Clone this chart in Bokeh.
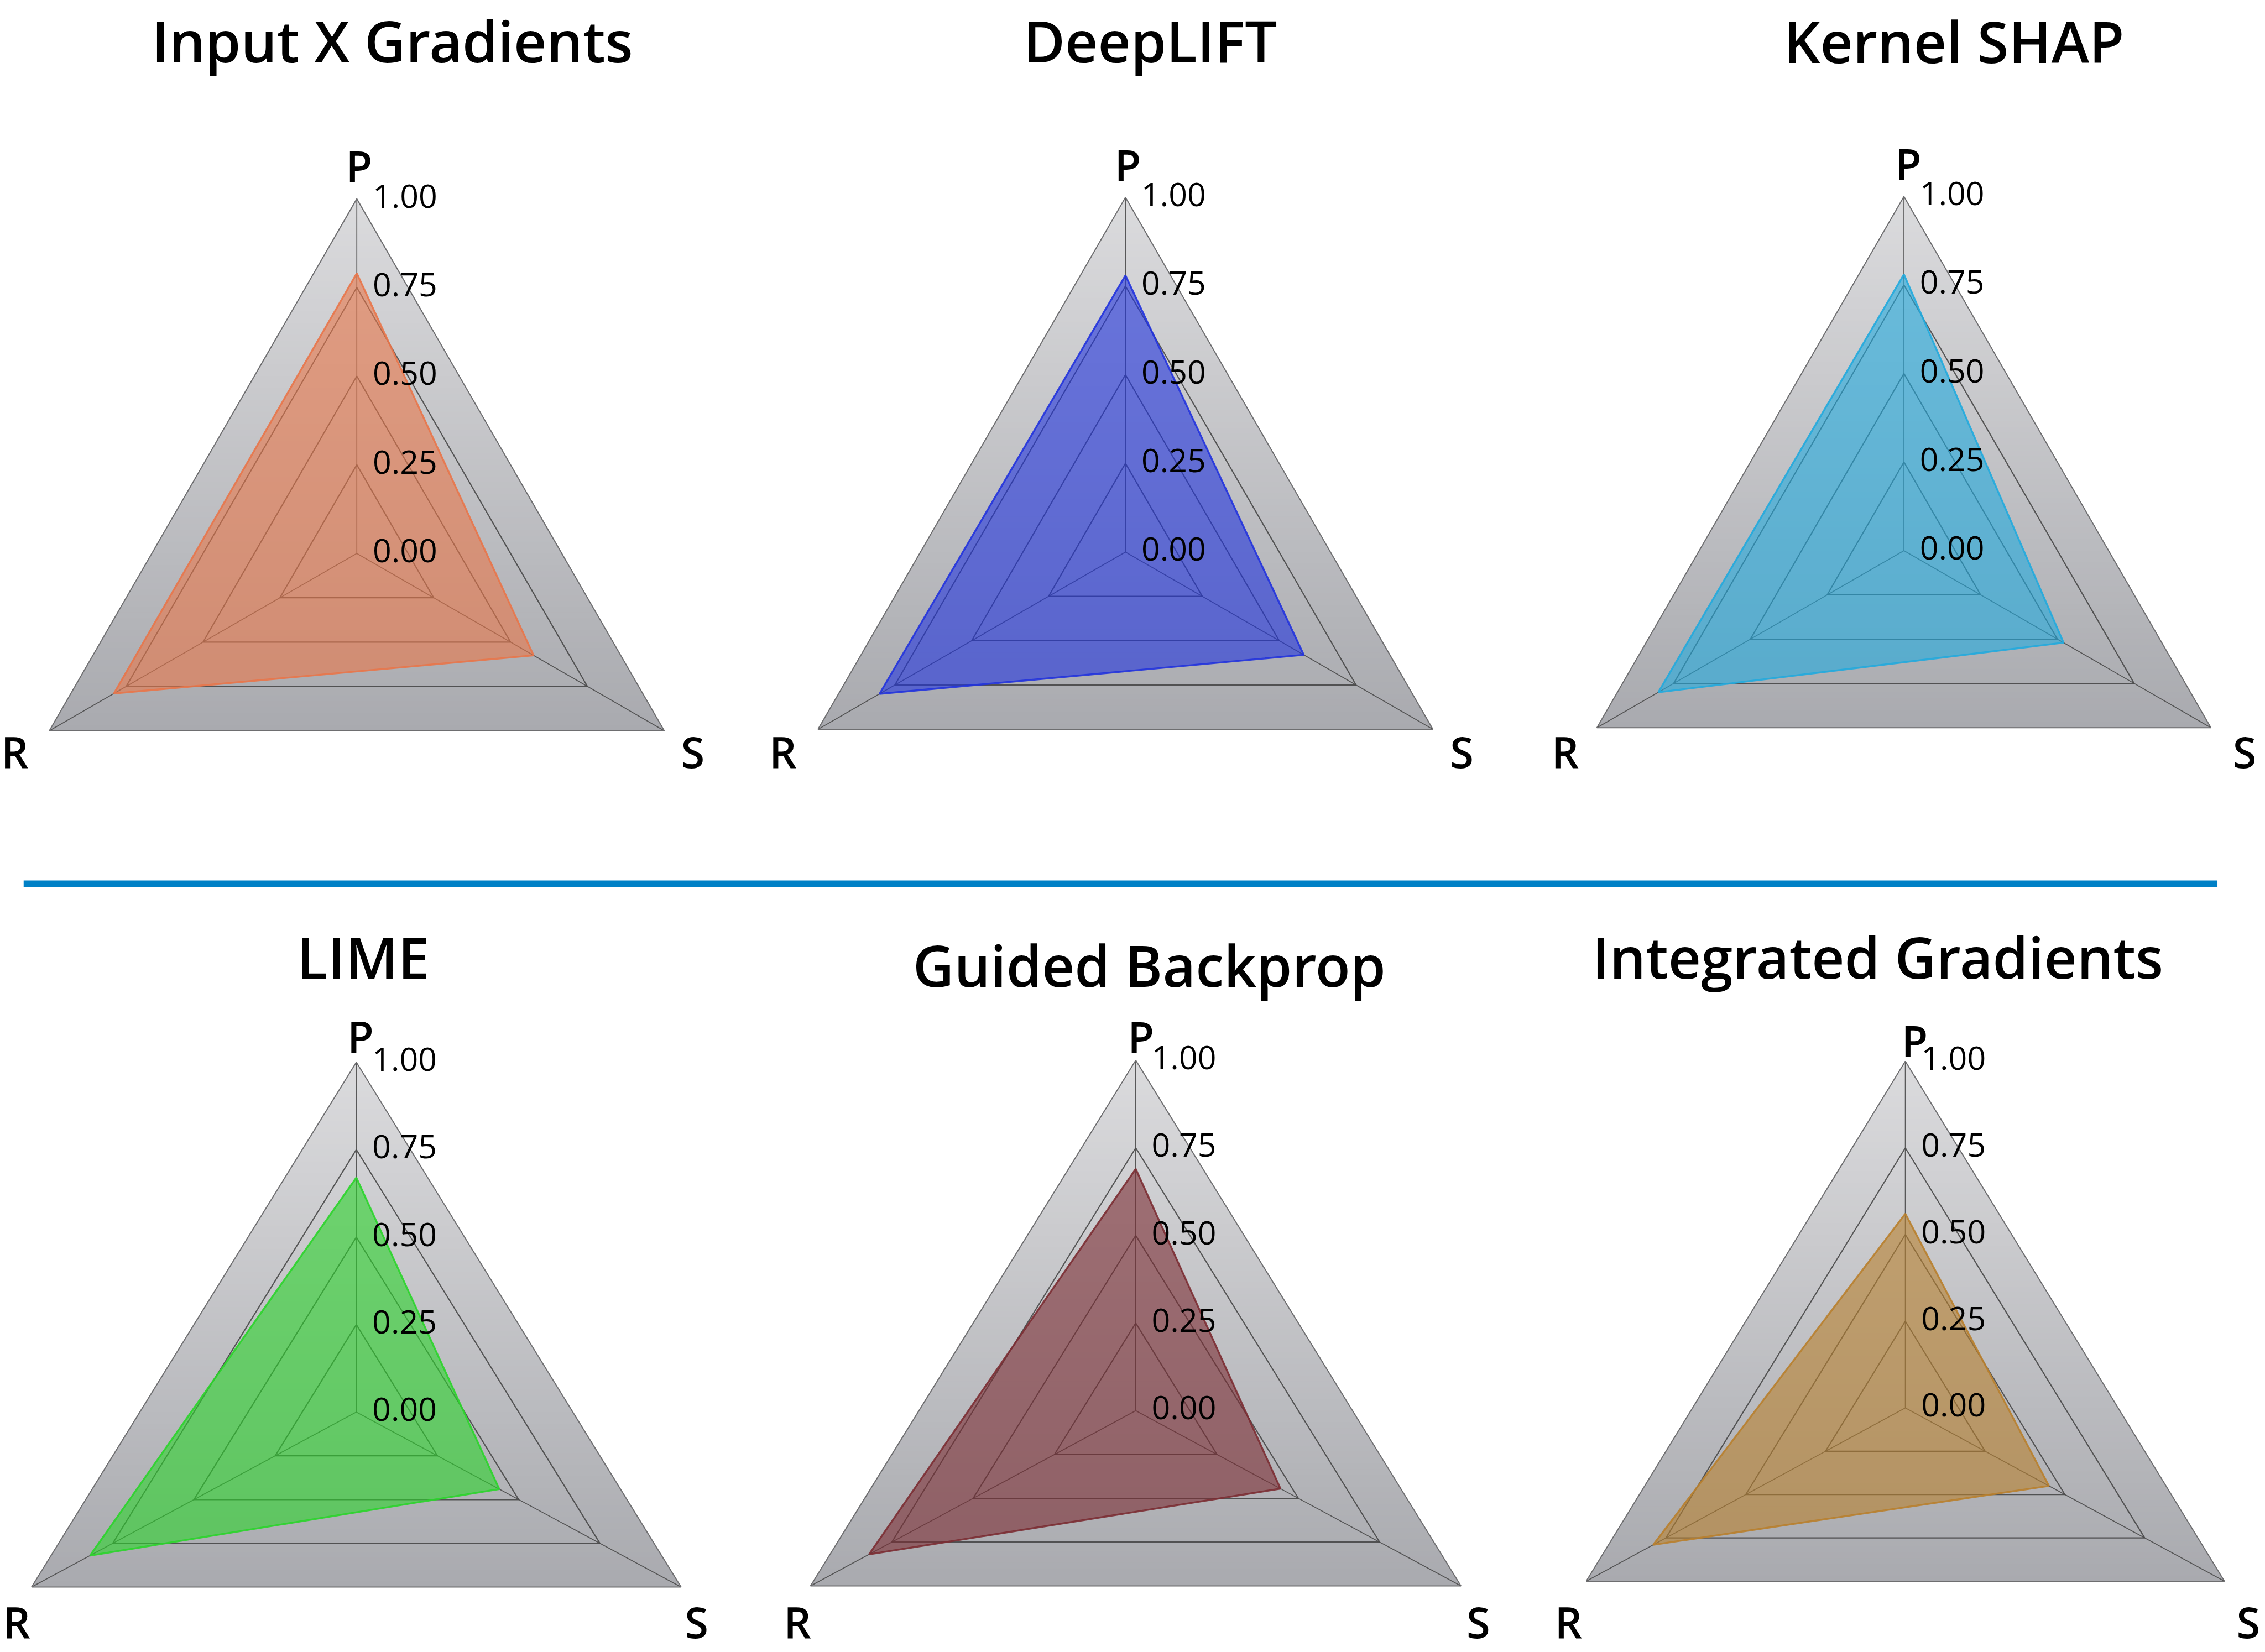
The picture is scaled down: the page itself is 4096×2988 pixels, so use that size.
import numpy as np
from bokeh.plotting import figure
from bokeh.models import Range1d
from bokeh.core.properties import value
from bokeh.embed import file_html
from bokeh.resources import INLINE

# ---------------- data ----------------
methods = ["Input X Gradients", "DeepLIFT", "Kernel SHAP",
           "LIME", "Guided Backprop", "Integrated Gradients"]
axis_names = ["P", "R", "S"]
p_values = [0.79, 0.78, 0.78, 0.67, 0.69, 0.56]
r_values = [0.79, 0.80, 0.80, 0.82, 0.82, 0.79]
s_values = [0.575, 0.58, 0.52, 0.44, 0.445, 0.45]
tick_values = [0.0, 0.25, 0.50, 0.75, 1.00]
tick_labels = ["0.00", "0.25", "0.50", "0.75", "1.00"]
series_colors = ["#E8764A", "#2233DD", "#22AADD", "#2BD42B", "#7B2D33", "#B8802E"]

# ---------------- layout (reference pixel units) ----------------
SCALE = 0.845
WIN_W, WIN_H = 4096, 2988
# cx, cy: centre; rv: radius to the P apex; hw: half-width of the outer triangle
# tx, ty: title centre; pdy: P label centre relative to apex; rdx/sdx: R/S label offsets; ly: R/S label centre
panels = [
    dict(cx=763, cy=1184, rv=759, hw=658, tx=839, ty=86, pdx=5, pdy=-70, rdx=-74, sdx=61, ly=1608),
    dict(cx=2408, cy=1181, rv=759, hw=658, tx=2461, ty=86, pdx=5, pdy=-70, rdx=-75, sdx=62, ly=1608),
    dict(cx=4074, cy=1178, rv=758, hw=657, tx=4181, ty=87, pdx=9, pdy=-70, rdx=-68, sdx=72, ly=1608),
    dict(cx=762, cy=3022, rv=749, hw=695, tx=777, ty=2048, pdx=9, pdy=-56, rdx=-32, sdx=33, ly=3470),
    dict(cx=2430, cy=3019, rv=750, hw=696, tx=2459, ty=2065, pdx=11, pdy=-51, rdx=-28, sdx=37, ly=3470),
    dict(cx=4077, cy=3013, rv=742, hw=683, tx=4018, ty=2047, pdx=20, pdy=-44, rdx=-38, sdx=51, ly=3470),
]
divider = dict(x0=50, x1=4745, y=1891, color="#0080C6", width=14)

TITLE_FONT = value("Open Sans SemiBold")
LABEL_FONT = value("Open Sans")


def to_xy(g, k, v):
    if k == 0:
        return g["cx"], g["cy"] - v * g["rv"]
    if k == 1:
        return g["cx"] - v * g["hw"], g["cy"] + v * g["rv"] / 2
    return g["cx"] + v * g["hw"], g["cy"] + v * g["rv"] / 2


p = figure(width=WIN_W, height=WIN_H,
           x_range=Range1d(0, WIN_W / SCALE), y_range=Range1d(WIN_H / SCALE, 0),
           output_backend="svg", toolbar_location=None, min_border=0,
           x_axis_location=None, y_axis_location=None)
p.grid.visible = False
p.outline_line_color = None
p.background_fill_color = "white"
p.border_fill_color = "white"

top_c = np.array([219, 219, 221])
bot_c = np.array([169, 170, 175])
N = 90

for i, g in enumerate(panels):
    # gradient background of the triangle
    ax, ay = to_xy(g, 0, 1)
    lx, by = to_xy(g, 1, 1)
    rx, _ = to_xy(g, 2, 1)
    xs, ys, cols = [], [], []
    for j in range(N):
        t = j / N
        y0 = ay + t * (by - ay)
        xl = ax + t * (lx - ax)
        xr = ax + t * (rx - ax)
        xs.append([xl, xr, rx, lx])
        ys.append([y0, y0, by, by])
        c = top_c + (bot_c - top_c) * min(1.0, t + 0.5 / N)
        cols.append("#%02x%02x%02x" % tuple(int(round(q)) for q in c))
    p.patches(xs, ys, fill_color=cols, line_color=None)

    # rings
    ring_x, ring_y = [], []
    for v in tick_values[1:-1]:
        pts = [to_xy(g, k, v) for k in range(3)]
        ring_x.append([q[0] for q in pts] + [pts[0][0]])
        ring_y.append([q[1] for q in pts] + [pts[0][1]])
    p.multi_line(ring_x, ring_y, line_color="#474747", line_width=2.6 * SCALE, line_alpha=0.9)
    # spokes
    sx, sy = [], []
    for k in range(3):
        x1, y1 = to_xy(g, k, 1.0)
        sx.append([g["cx"], x1])
        sy.append([g["cy"], y1])
    p.multi_line(sx, sy, line_color="#4a4a4a", line_width=2.0 * SCALE, line_alpha=0.9)
    # outer outline
    pts = [to_xy(g, k, 1.0) for k in range(3)]
    p.patch([q[0] for q in pts], [q[1] for q in pts], fill_color=None,
            line_color="#6e6e70", line_width=2.4 * SCALE)

    # data polygon
    vals = [p_values[i], r_values[i], s_values[i]]
    dp = [to_xy(g, k, vals[k]) for k in range(3)]
    p.patch([q[0] for q in dp], [q[1] for q in dp], fill_color=series_colors[i], fill_alpha=0.6,
            line_color=series_colors[i], line_width=4 * SCALE, line_alpha=0.9)

    # tick labels along P axis
    p.text(x=[g["cx"] + 34] * len(tick_values),
           y=[g["cy"] - v * g["rv"] - 6 for v in tick_values],
           text=tick_labels, text_font=LABEL_FONT, text_font_size=f"{70 * SCALE:.1f}px",
           text_align="left", text_baseline="middle", text_color="black")

    # axis names
    p.text(x=[ax + g["pdx"]], y=[ay + g["pdy"]], text=[axis_names[0]],
           text_font=TITLE_FONT, text_font_size=f"{92 * SCALE:.1f}px",
           text_align="center", text_baseline="middle", text_color="black")
    p.text(x=[lx + g["rdx"], rx + g["sdx"]], y=[g["ly"], g["ly"]], text=axis_names[1:],
           text_font=TITLE_FONT, text_font_size=f"{92 * SCALE:.1f}px",
           text_align="center", text_baseline="middle", text_color="black")

    # title
    p.text(x=[g["tx"]], y=[g["ty"]], text=[methods[i]],
           text_font=TITLE_FONT, text_font_size=f"{122 * SCALE:.1f}px",
           text_align="center", text_baseline="middle", text_color="black")

# divider line between rows
p.line([divider["x0"], divider["x1"]], [divider["y"], divider["y"]],
       line_color=divider["color"], line_width=divider["width"] * SCALE)

open("out.html", "w").write(file_html(p, INLINE))
